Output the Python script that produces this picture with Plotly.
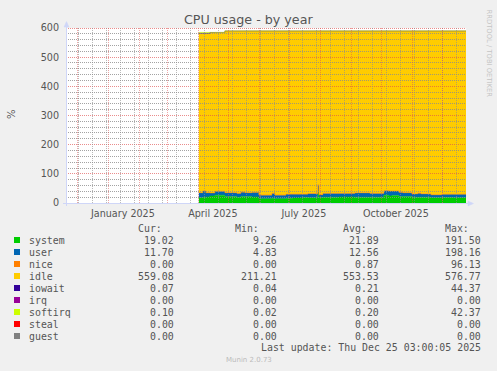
import plotly.graph_objects as go
import pandas as pd

# ---------------- data ----------------
dates = ["2025-04-02", "2025-04-06", "2025-04-09", "2025-04-13", "2025-04-18",
         "2025-04-28", "2025-05-10", "2025-05-14", "2025-05-18", "2025-05-25",
         "2025-06-01", "2025-06-14", "2025-06-17", "2025-06-28", "2025-07-05",
         "2025-07-14", "2025-07-20", "2025-07-30", "2025-07-31", "2025-08-04",
         "2025-08-20", "2025-09-05", "2025-09-20", "2025-10-04", "2025-10-09",
         "2025-10-12", "2025-10-19", "2025-10-23", "2025-11-01", "2025-11-07",
         "2025-11-10", "2025-11-20", "2025-12-01", "2025-12-12", "2025-12-25 03:00"]
system = [18, 20, 21, 24, 27, 22, 20, 22, 22, 21,
          15, 16, 15, 16, 17, 19, 18, 42, 19, 20,
          21, 20, 20, 27, 24, 26, 22, 22, 20, 20,
          20, 18, 19, 18, 19.02]
user = [17, 21, 14, 10, 13, 13, 13, 15, 13, 15,
        12, 17, 12, 14, 13, 11, 14, 20, 9, 13,
        12, 14, 13, 15, 17, 15, 13, 13, 11, 12,
        11, 10, 11, 12, 11.70]
nice = [0.5, 0.5, 0.5, 0.5, 0.5, 0.5, 0.5, 0.5, 0.5, 0.5,
        0.5, 0.5, 0.5, 0.5, 0.5, 0.5, 0.5, 0.5, 0.5, 0.5,
        0.5, 1.0, 0.5, 0.5, 0.5, 0.5, 3.0, 0.5, 0.5, 3.0,
        0.5, 0.3, 0.2, 0.2, 0.0]
idle = [545.0, 539.0, 545.0, 549.5, 543.9, 554.1, 556.1, 552.1, 554.1, 553.1,
        562.1, 556.1, 562.1, 559.1, 559.1, 559.1, 557.1, 527.1, 561.1, 556.1,
        556.1, 554.6, 556.1, 547.1, 548.1, 548.1, 551.6, 554.1, 558.1, 554.6,
        558.1, 561.3, 559.4, 559.4, 559.08]
iowait = [1.5, 1.5, 1.5, 0.5, 0.3, 0.2, 0.2, 0.2, 0.2, 0.2,
          0.2, 0.2, 0.2, 0.2, 0.2, 0.2, 0.2, 0.2, 0.2, 0.2,
          0.2, 0.2, 0.2, 0.2, 0.2, 0.2, 0.2, 0.2, 0.2, 0.2,
          0.2, 0.2, 0.2, 0.2, 0.07]
softirq = [3.0, 3.0, 3.0, 0.5, 0.3, 0.2, 0.2, 0.2, 0.2, 0.2,
           0.2, 0.2, 0.2, 0.2, 0.2, 0.2, 0.2, 0.2, 0.2, 0.2,
           0.2, 0.2, 0.2, 0.2, 0.2, 0.2, 0.2, 0.2, 0.2, 0.2,
           0.2, 0.2, 0.2, 0.2, 0.10]

legend_names = ["system", "user", "nice", "idle", "iowait", "irq", "softirq", "steal", "guest"]
legend_colors = ["#00CC00", "#0066B3", "#FF8000", "#FFCC00", "#330099",
                 "#990099", "#CCFF00", "#FF0000", "#808080"]
cur_vals = ["19.02", "11.70", "0.00", "559.08", "0.07", "0.00", "0.10", "0.00", "0.00"]
min_vals = ["9.26", "4.83", "0.00", "211.21", "0.04", "0.00", "0.02", "0.00", "0.00"]
avg_vals = ["21.89", "12.56", "0.87", "553.53", "0.21", "0.00", "0.20", "0.00", "0.00"]
max_vals = ["191.50", "198.16", "96.13", "576.77", "44.37", "0.00", "42.37", "0.00", "0.00"]

x_labels = ["January 2025", "April 2025", "July 2025", "October 2025"]
x_label_pos = ["2025-01-16", "2025-04-16", "2025-07-16", "2025-10-16"]
y_ticks = [0, 100, 200, 300, 400, 500, 600]

title = "CPU usage - by year"
last_update = "Last update: Thu Dec 25 03:00:05 2025"

# ---------------- layout geometry ----------------
W, H = 497, 371
L, R, T, B = 66, 466, 28, 203
YMAX = 600
def px(x):
    return (x - L) / (R - L)
def py(y):
    return (B - y) / (B - T)
def snap(v):
    # grid value -> value whose pixel row is a pixel centre (crisp dotted line)
    k = (B - T) / YMAX
    ypix = round(B - v * k - 0.5) + 0.5
    return (B - ypix) / k

FONT = "DejaVu Sans"
MONO = "DejaVu Sans Mono"
TXT = "#555555"

fig = go.Figure()
series = [("system", system, "#00CC00"), ("user", user, "#0066B3"),
          ("nice", nice, "#FF8000"), ("idle", idle, "#FFCC00"),
          ("iowait", iowait, "#330099"), ("softirq", softirq, "#CCFF00")]
for name, vals, col in series:
    fig.add_trace(go.Scatter(x=dates, y=vals, name=name, stackgroup="one",
                             mode="lines", line=dict(color=col, width=0.5, shape="hv"),
                             fillcolor=col, hoverinfo="skip"))

shapes = []
# grid (drawn above the areas, as rrdtool does)
major_c = "rgba(222,79,79,0.5)"
minor_c = "rgba(140,140,140,0.6)"
hmajor_c = "rgba(222,79,79,0.65)"
hminor_c = "rgba(140,140,140,0.8)"
half = pd.Timedelta(hours=15)  # puts vertical lines on pixel centres
for v in range(20, 601, 20):
    c = hmajor_c if v % 100 == 0 else hminor_c
    sv = snap(v)
    shapes.append(dict(type="line", xref="paper", yref="y", x0=0, x1=1, y0=sv, y1=sv,
                       line=dict(color=c, width=1, dash="1px,1px"), layer="above"))
for d in pd.date_range("2024-12-02", "2025-12-25", freq="14D"):
    shapes.append(dict(type="line", xref="x", yref="paper", x0=d + half, x1=d + half, y0=0, y1=1,
                       line=dict(color=minor_c, width=1, dash="1px,1px"), layer="above"))
for d in pd.date_range("2024-12-01", "2025-12-01", freq="MS"):
    shapes.append(dict(type="line", xref="x", yref="paper", x0=d + half, x1=d + half, y0=0, y1=1,
                       line=dict(color=major_c, width=1, dash="1px,1px"), layer="above"))
# axes with arrows
AX = "#CFD6F8"
shapes.append(dict(type="line", xref="paper", yref="paper", x0=px(66.5), x1=px(66.5),
                   y0=py(206), y1=py(25), line=dict(color=AX, width=1), layer="above"))
shapes.append(dict(type="line", xref="paper", yref="paper", x0=px(63), x1=px(469),
                   y0=py(203.5), y1=py(203.5), line=dict(color=AX, width=1), layer="above"))
shapes.append(dict(type="path", xref="paper", yref="paper",
                   path=f"M {px(64)} {py(27)} L {px(69)} {py(27)} L {px(66.5)} {py(21.5)} Z",
                   fillcolor=AX, line=dict(color=AX, width=0.5), layer="above"))
shapes.append(dict(type="path", xref="paper", yref="paper",
                   path=f"M {px(468)} {py(201)} L {px(468)} {py(206)} L {px(473.5)} {py(203.5)} Z",
                   fillcolor=AX, line=dict(color=AX, width=0.5), layer="above"))

annotations = []
def text(x, y, s, size, color=TXT, family=FONT, xanchor="left", angle=0):
    annotations.append(dict(x=px(x), y=py(y), xref="paper", yref="paper", text=s,
                            showarrow=False, xanchor=xanchor, yanchor="middle",
                            textangle=angle, font=dict(family=family, size=size, color=color)))

text(248.5, 19.5, title, 12.7, xanchor="center")
text(11, 114, "%", 10, xanchor="center", angle=-90)
text(488.5, 54, "RRDTOOL / TOBI OETIKER", 6.8, color="#C4C4C4", xanchor="center", angle=90)

# legend table
row0 = 240
step = 12
ms = 9.9
text(163.5, row0 - step, "Cur:", ms, family=MONO, xanchor="right")
text(260.5, row0 - step, "Min:", ms, family=MONO, xanchor="right")
text(369, row0 - step, "Avg:", ms, family=MONO, xanchor="right")
text(470.5, row0 - step, "Max:", ms, family=MONO, xanchor="right")
for i, name in enumerate(legend_names):
    yy = row0 + i * step
    shapes.append(dict(type="rect", xref="paper", yref="paper",
                       x0=px(14), x1=px(20), y0=py(yy + 3), y1=py(yy - 3),
                       fillcolor=legend_colors[i], line=dict(width=0)))
    text(26.5, yy, name, ms, family=MONO)
    text(176, yy, cur_vals[i], ms, family=MONO, xanchor="right")
    text(278.5, yy, min_vals[i], ms, family=MONO, xanchor="right")
    text(380.5, yy, avg_vals[i], ms, family=MONO, xanchor="right")
    text(482.5, yy, max_vals[i], ms, family=MONO, xanchor="right")
text(482.5, 347.5, last_update, ms, family=MONO, xanchor="right")
text(248.5, 360, "Munin 2.0.73", 7, color="#BBBBBB", xanchor="center")

fig.update_layout(
    width=W, height=H,
    margin=dict(l=L, r=W - R, t=T, b=H - B, pad=0),
    paper_bgcolor="#F0F0F0", plot_bgcolor="#FFFFFF",
    showlegend=False,
    shapes=shapes, annotations=annotations,
    xaxis=dict(range=["2024-11-20 03:00", "2025-12-25 03:00"], type="date",
               showgrid=False, zeroline=False, showline=False,
               tickmode="array", tickvals=x_label_pos, ticktext=x_labels,
               ticks="", ticklabelstandoff=3,
               tickfont=dict(family=FONT, size=9.6, color=TXT)),
    yaxis=dict(range=[0, YMAX], showgrid=False, zeroline=False, showline=False,
               tickmode="array", tickvals=y_ticks, ticks="", ticklabelstandoff=6,
               tickfont=dict(family=FONT, size=9.6, color=TXT)),
)

fig.write_html("out.html")
